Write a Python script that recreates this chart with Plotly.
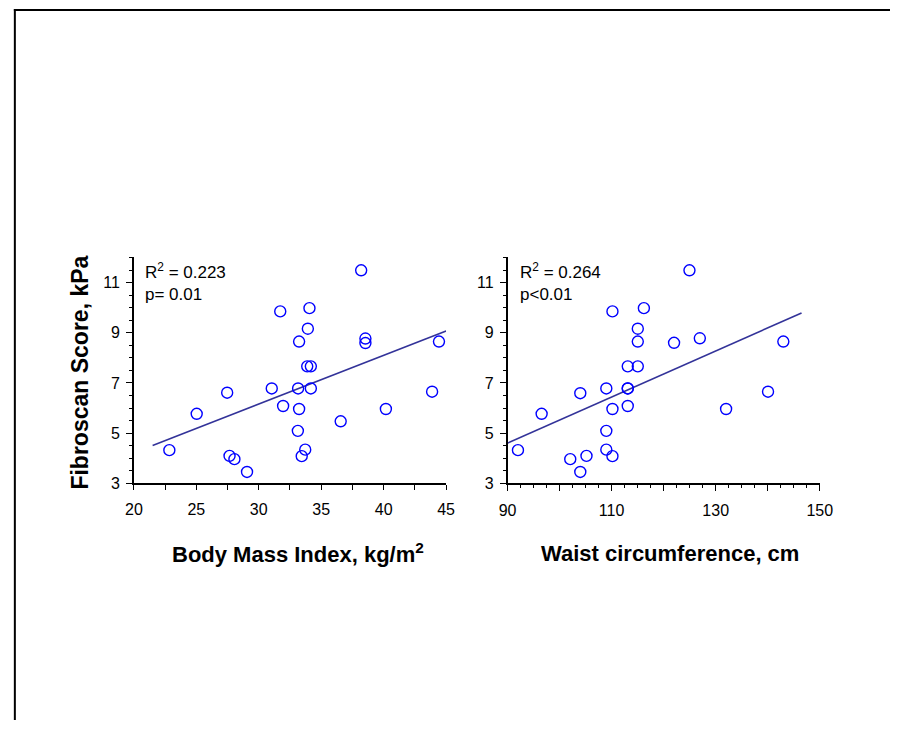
import plotly.graph_objects as go

# ---- data ----
bmi = [22.84, 25.03, 27.47, 27.66, 28.05, 29.06, 31.04, 31.72, 31.95, 33.15,
       33.23, 33.23, 33.13, 33.44, 33.72, 33.93, 34.06, 33.88, 34.17, 34.17,
       36.56, 38.20, 38.54, 38.54, 40.18, 43.88, 44.43]
fib_bmi = [4.32, 5.77, 6.61, 4.09, 3.96, 3.45, 6.78, 9.85, 6.08, 6.78,
           8.65, 5.96, 5.09, 4.08, 4.34, 9.16, 9.98, 7.66, 7.66, 6.78,
           5.47, 11.49, 8.77, 8.59, 5.96, 6.65, 8.65]

waist = [92.0, 96.55, 103.98, 102.05, 103.98, 105.17, 108.98, 108.98, 108.98,
         110.16, 110.16, 110.16, 113.1, 113.1, 113.1, 113.1, 115.03, 115.03,
         115.03, 116.2, 122.0, 124.96, 126.95, 132.0, 140.06, 143.0]
fib_waist = [4.32, 5.77, 6.59, 3.96, 3.45, 4.09, 6.78, 5.09, 4.34,
             9.85, 5.96, 4.08, 7.66, 6.78, 6.78, 6.08, 9.16, 8.65,
             7.66, 9.98, 8.60, 11.49, 8.78, 5.96, 6.65, 8.65]

bmi_fit_x = [21.5, 45.0]
bmi_fit_y = [4.51, 9.07]
waist_fit_x = [90.0, 146.5]
waist_fit_y = [4.60, 9.79]

bmi_ticks = [20, 25, 30, 35, 40, 45]
waist_ticks = [90, 100, 110, 120, 130, 140, 150]
waist_tick_labels = ["90", "", "110", "", "130", "", "150"]
y_ticks = [3, 5, 7, 9, 11]

stats_bmi = "R<sup>2</sup> = 0.223<br>p= 0.01"
stats_waist = "R<sup>2</sup> = 0.264<br>p<0.01"

FONT = "Liberation Sans, Arial, sans-serif"
MARK = "#0000FF"
LINE = "#333399"

fig = go.Figure()
fig.add_trace(go.Scatter(x=bmi_fit_x, y=bmi_fit_y, mode="lines",
                         line=dict(color=LINE, width=1.6), xaxis="x", yaxis="y"))
fig.add_trace(go.Scatter(x=bmi, y=fib_bmi, mode="markers",
                         marker=dict(symbol="circle-open", size=11, color=MARK,
                                     line=dict(width=1.4, color=MARK)),
                         xaxis="x", yaxis="y", cliponaxis=False))
fig.add_trace(go.Scatter(x=waist_fit_x, y=waist_fit_y, mode="lines",
                         line=dict(color=LINE, width=1.6), xaxis="x2", yaxis="y2"))
fig.add_trace(go.Scatter(x=waist, y=fib_waist, mode="markers",
                         marker=dict(symbol="circle-open", size=11, color=MARK,
                                     line=dict(width=1.4, color=MARK)),
                         xaxis="x2", yaxis="y2", cliponaxis=False))

W, H = 903, 729
def px(x):
    return x / W
def py(y):
    return 1 - y / H

axis_common = dict(showgrid=False, zeroline=False, showline=True, linecolor="black",
                   linewidth=1.5, ticks="outside", tickcolor="black", tickwidth=1.2,
                   tickfont=dict(family=FONT, size=16, color="black"))

ydom = [py(489.3), py(260.7)]
fig.update_layout(
    width=W, height=H, margin=dict(l=0, r=0, t=0, b=0),
    paper_bgcolor="white", plot_bgcolor="white", showlegend=False,
    xaxis=dict(domain=[px(128), px(448)], range=[20, 45], anchor="y",
               tickvals=bmi_ticks, ticklen=5, ticklabelstandoff=6,
               minor=dict(dtick=2.5, ticks="outside", ticklen=5, tickcolor="black", tickwidth=1.2),
               **axis_common),
    yaxis=dict(domain=ydom, range=[3, 12], anchor="x",
               tickvals=y_ticks, ticklen=6, ticklabelstandoff=3,
               minor=dict(dtick=0.5, ticks="outside", ticklen=3, tickcolor="black", tickwidth=1.2),
               **axis_common),
    xaxis2=dict(domain=[px(511), px(831)], range=[90, 150], anchor="y2",
                tickvals=waist_ticks, ticktext=waist_tick_labels, ticklen=6,
                ticklabelstandoff=6,
                minor=dict(dtick=2.5, ticks="outside", ticklen=3, tickcolor="black", tickwidth=1.2),
                **axis_common),
    yaxis2=dict(domain=ydom, range=[3, 12], anchor="x2",
                tickvals=y_ticks, ticklen=6, ticklabelstandoff=3,
                minor=dict(dtick=0.5, ticks="outside", ticklen=3, tickcolor="black", tickwidth=1.2),
                **axis_common),
)

ann = []
ann.append(dict(text=stats_bmi, xref="paper", yref="paper", x=px(137), y=py(261),
                xanchor="left", yanchor="top", showarrow=False, align="left",
                font=dict(family=FONT, size=17, color="black")))
ann.append(dict(text=stats_waist, xref="paper", yref="paper", x=px(522), y=py(261),
                xanchor="left", yanchor="top", showarrow=False, align="left",
                font=dict(family=FONT, size=17, color="black")))
ann.append(dict(text="<b>Body Mass Index, kg/m<sup>2</sup></b>", xref="paper", yref="paper",
                x=px(296), y=py(560), xanchor="center", yanchor="middle", showarrow=False,
                font=dict(family=FONT, size=22, color="black")))
ann.append(dict(text="<b>Waist circumference, cm</b>", xref="paper", yref="paper",
                x=px(678), y=py(560), xanchor="center", yanchor="middle", showarrow=False,
                font=dict(family=FONT, size=22, color="black")))
ann.append(dict(text="<b>Fibroscan Score, kPa</b>", xref="paper", yref="paper",
                x=px(73), y=py(377), xanchor="center", yanchor="middle", showarrow=False,
                textangle=-90, font=dict(family=FONT, size=23, color="black")))
fig.update_layout(annotations=ann)

# page frame lines (top and left)
fig.add_shape(type="line", xref="paper", yref="paper", x0=px(5), x1=1.0, y0=py(10), y1=py(10),
              line=dict(color="black", width=2))
fig.add_shape(type="line", xref="paper", yref="paper", x0=px(6), x1=px(6), y0=py(9), y1=0,
              line=dict(color="black", width=2))

fig.write_html("out.html")
